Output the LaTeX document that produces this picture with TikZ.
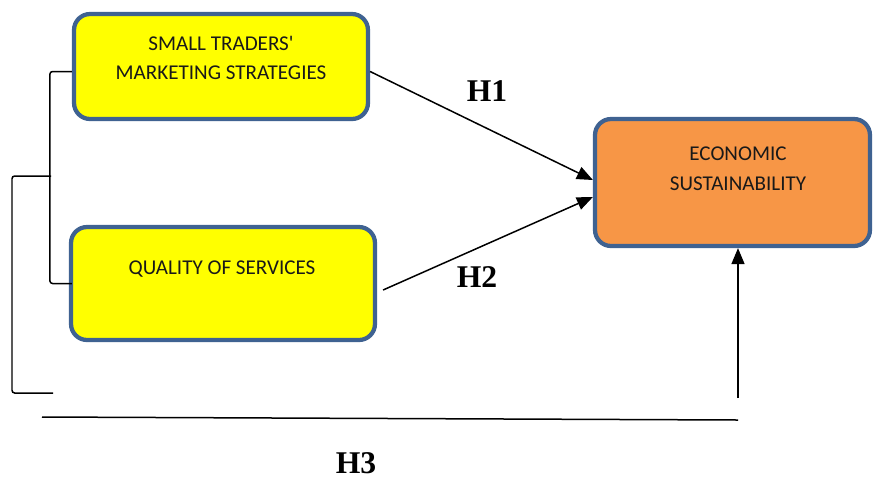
\documentclass[tikz,border=0pt]{standalone}
\usepackage{fontspec}
\setmainfont{Carlito}
\newfontfamily\hfont{Liberation Serif}
\usetikzlibrary{arrows.meta,calc}
\definecolor{boxline}{RGB}{63,98,145}
\definecolor{boxyellow}{RGB}{255,255,0}
\definecolor{boxorange}{RGB}{247,150,70}
\tikzset{
  varbox/.style={draw=boxline, line width=0.085cm, rounded corners=0.32cm, inner sep=0pt},
  boxtext/.style={align=center, font=\fontsize{12}{17}\selectfont, text=black!90},
  hyp/.style={font=\hfont\fontsize{18}{20}\selectfont\bfseries},
  link/.style={line width=0.03cm, -{Triangle[length=0.32cm,width=0.26cm]}},
  brace/.style={line width=0.03cm, rounded corners=1.5pt}
}
\begin{document}
\begin{tikzpicture}[x=0.02cm, y=-0.02cm]
  \useasboundingbox (0,0) rectangle (873,478);

  % Drawing boxes
  \node [varbox, fill=boxyellow, minimum width=5.88cm, minimum height=2.1cm] (msb) at (221,66.5) {};
  \node [boxtext] (msbt) at (221,58) {SMALL TRADERS\textquotesingle\\MARKETING STRATEGIES};

  \node [varbox, fill=boxyellow, minimum width=6.08cm, minimum height=2.26cm] (qos) at (223,283.5) {};
  \node [boxtext] (qost) at (222,269) {QUALITY OF SERVICES};

  \node [varbox, fill=boxorange, minimum width=5.5cm, minimum height=2.54cm] (es) at (732.5,182.5) {};
  \node [boxtext] (est) at (738,168.5) {ECONOMIC\\SUSTAINABILITY};

  % Drawing links H1, H2
  \draw [link] ($(msb.east)+(0,5)$) -- ($(es.west)+(0,-2.5)$);
  \draw [link] ($(qos.east)+(6,6.5)$) -- ($(es.west)+(0,14.5)$);

  % Drawing brackets
  \draw [brace] ($(msb.west)+(0,5)$) -- ++(-22,0) |- (qos.west -| msb.west);
  \coordinate (otop) at (51,176);
  \coordinate (obot) at (53,393);
  \draw [brace] (otop) -- (12,176) |- (obot);

  % Drawing link H3
  \coordinate (h3a) at (738,398);
  \draw [link] (h3a) -- (h3a |- es.south);
  \coordinate (base1) at (42,417);
  \coordinate (base2) at (738,420);
  \draw [line width=0.03cm] (base1) -- (base2);

  % Marking labels
  \node [hyp] (h1) at (487,91) {H1};
  \node [hyp] (h2) at (477,277) {H2};
  \node [hyp] (h3) at (356,463) {H3};
\end{tikzpicture}
\end{document}
